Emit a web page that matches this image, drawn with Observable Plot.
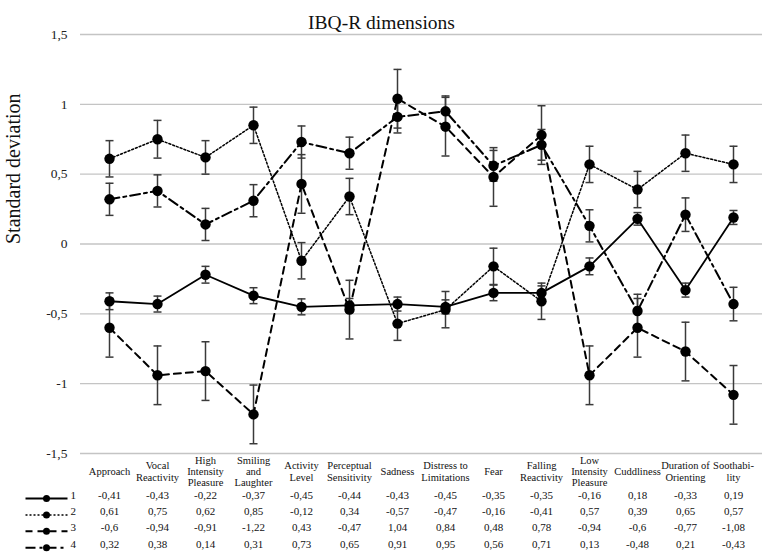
<!DOCTYPE html>
<html>
<head>
<meta charset="utf-8">
<script src="https://cdn.jsdelivr.net/npm/d3@7"></script>
<script src="https://cdn.jsdelivr.net/npm/@observablehq/plot@0.6"></script>
<style>
  body { margin: 0; background: #fff; }
  #chart svg { display: block; font-family: "Liberation Serif", "Times New Roman", serif !important; }
  #chart svg text, #chart svg g { font-family: "Liberation Serif", "Times New Roman", serif !important; }
</style>
</head>
<body>
<div id="chart"></div>
<script>
const categories = ["Approach","Vocal Reactivity","High Intensity Pleasure","Smiling and Laughter","Activity Level","Perceptual Sensitivity","Sadness","Distress to Limitations","Fear","Falling Reactivity","Low Intensity Pleasure","Cuddliness","Duration of Orienting","Soothability"];
const categoryLabels = ["Approach","Vocal\nReactivity","High\nIntensity\nPleasure","Smiling\nand\nLaughter","Activity\nLevel","Perceptual\nSensitivity","Sadness","Distress to\nLimitations","Fear","Falling\nReactivity","Low\nIntensity\nPleasure","Cuddliness","Duration of\nOrienting","Soothabi-\nlity"];
const seriesNames = ["1","2","3","4"];
const values1 = [-0.41,-0.43,-0.22,-0.37,-0.45,-0.44,-0.43,-0.45,-0.35,-0.35,-0.16,0.18,-0.33,0.19];
const values2 = [0.61,0.75,0.62,0.85,-0.12,0.34,-0.57,-0.47,-0.16,-0.41,0.57,0.39,0.65,0.57];
const values3 = [-0.6,-0.94,-0.91,-1.22,0.43,-0.47,1.04,0.84,0.48,0.78,-0.94,-0.6,-0.77,-1.08];
const values4 = [0.32,0.38,0.14,0.31,0.73,0.65,0.91,0.95,0.56,0.71,0.13,-0.48,0.21,-0.43];
const errors1 = [0.06,0.057,0.06,0.057,0.057,0.05,0.05,0.05,0.056,0.05,0.06,0.045,0.05,0.05];
const errors2 = [0.13,0.135,0.12,0.13,0.13,0.13,0.12,0.13,0.13,0.13,0.13,0.13,0.13,0.13];
const errors3 = [0.21,0.21,0.21,0.21,0.21,0.21,0.21,0.21,0.21,0.21,0.21,0.21,0.21,0.21];
const errors4 = [0.115,0.115,0.115,0.115,0.115,0.115,0.115,0.11,0.11,0.11,0.115,0.12,0.12,0.12];
const yTicks = [-1.5,-1,-0.5,0,0.5,1,1.5];
const yTickLabels = ["-1,5","-1","-0,5","0","0,5","1","1,5"];

const allValues = [values1, values2, values3, values4];
const allErrors = [errors1, errors2, errors3, errors4];
const dashes = [null, "2,2", "7,5", "10,4,3,4"];
const widths = [1.8, 1.5, 2, 2];
const rowDy = [45, 61.4, 77.8, 94.2];
const fmt = v => String(v).replace(".", ",");

const data = [];
allValues.forEach((vals, k) => vals.forEach((v, i) => data.push({cat: categories[i], v, e: allErrors[k][i], s: seriesNames[k]})));

const capSymbol = {draw(ctx) { ctx.moveTo(-4, 0); ctx.lineTo(4, 0); }};
const legendLine = {draw(ctx) { ctx.moveTo(-21, 0); ctx.lineTo(21, 0); }};

const marks = [
  Plot.gridY(yTicks, {stroke: "#c4c4c4", strokeOpacity: 1, strokeWidth: 1.3}),
  Plot.axisY(yTicks, {tickSize: 0, tickPadding: 13, tickFormat: (d) => yTickLabels[yTicks.indexOf(d)], fontSize: 13.5, fill: "#222", label: null}),
  Plot.text(["Standard deviation"], {frameAnchor: "left", dx: -67, rotate: -90, fontSize: 20, fill: "#111"}),
  Plot.text(["IBQ-R dimensions"], {frameAnchor: "top", dx: -40, dy: -19, fontSize: 19.5, fill: "#111"}),
  Plot.ruleX(data, {x: "cat", y1: d => d.v - d.e, y2: d => d.v + d.e, stroke: "#3a3a3a", strokeWidth: 1.5}),
  Plot.dot(data, {x: "cat", y: d => d.v + d.e, symbol: capSymbol, stroke: "#3a3a3a", strokeWidth: 1.5}),
  Plot.dot(data, {x: "cat", y: d => d.v - d.e, symbol: capSymbol, stroke: "#3a3a3a", strokeWidth: 1.5})
];
seriesNames.forEach((s, k) => {
  marks.push(Plot.line(data.filter(d => d.s === s), {x: "cat", y: "v", stroke: "black", strokeWidth: widths[k], strokeDasharray: dashes[k]}));
});
marks.push(Plot.dot(data, {x: "cat", y: "v", r: 5.2, fill: "black"}));
marks.push(Plot.text(categories, {x: d => d, text: (d, i) => categoryLabels[i], frameAnchor: "bottom", dy: 18, lineAnchor: "middle", fontSize: 10.5, lineHeight: 1.08, fill: "#111"}));
seriesNames.forEach((s, k) => {
  marks.push(Plot.text(categories, {x: d => d, text: (d, i) => fmt(allValues[k][i]), frameAnchor: "bottom", dy: rowDy[k], fontSize: 11, fill: "#111"}));
  marks.push(Plot.dot([s], {frameAnchor: "bottom-left", dx: -34, dy: rowDy[k], symbol: legendLine, stroke: "black", strokeWidth: widths[k], strokeDasharray: dashes[k]}));
  marks.push(Plot.dot([s], {frameAnchor: "bottom-left", dx: -34, dy: rowDy[k], r: 3.5, fill: "black"}));
  marks.push(Plot.text([s], {frameAnchor: "bottom-left", dx: -10, dy: rowDy[k], textAnchor: "start", fontSize: 11, fill: "#111"}));
});

const chart = Plot.plot({
  width: 767,
  height: 555,
  marginTop: 34,
  marginBottom: 102,
  marginLeft: 80,
  marginRight: 5,
  style: {fontFamily: "Liberation Serif, serif", background: "#fff", overflow: "visible"},
  x: {type: "point", domain: categories, padding: 0.5, axis: null},
  y: {domain: [-1.5, 1.5], axis: null},
  marks
});
document.getElementById("chart").appendChild(chart);
</script>
</body>
</html>
